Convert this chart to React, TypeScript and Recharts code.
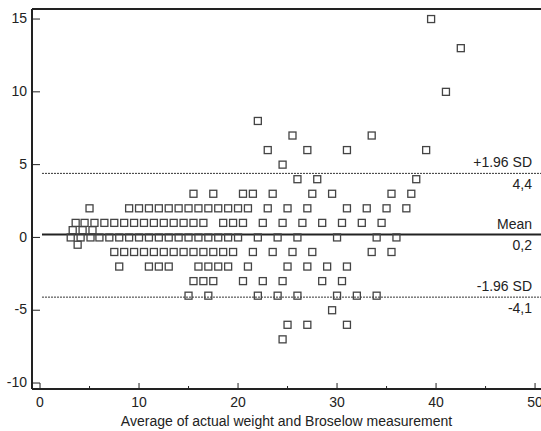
import React from 'react';
import { ScatterChart, Scatter, XAxis, YAxis, ReferenceLine } from 'recharts';

// difference levels (y) and the averages (x) plotted on each level
const diffLevels = [15, 13, 10, 8, 7, 6, 5, 4, 3, 2, 1, 0.5, 0, -0.5, -1, -2, -3, -4, -5, -6, -7];
const averagesByLevel: number[][] = [
  [39.5],
  [42.5],
  [41],
  [22],
  [25.5, 33.5],
  [23, 27, 31, 39],
  [24.5],
  [26, 28, 38],
  [15.5, 17.5, 20.5, 21.5, 23.5, 27.5, 29.5, 35.5, 37.5],
  [5, 9, 10, 11, 12, 13, 14, 15, 16, 17, 18, 19, 20, 21, 23, 25, 27, 31, 33, 35, 37],
  [3.6, 4.5, 5.5, 6.5, 7.5, 8.5, 9.5, 10.5, 11.5, 12.5, 13.5, 14.5, 15.5, 16.5, 18.5, 19.5, 20.5, 22.5, 24.5, 26.5, 28.5, 30.5, 32.5, 34.5],
  [3.3, 4.3, 5.3],
  [3.1, 4.1, 5.1, 6, 7, 8, 9, 10, 11, 12, 13, 14, 15, 16, 17, 18, 19, 20, 22, 24, 26, 30, 34, 36],
  [3.8],
  [7.5, 8.5, 9.5, 10.5, 11.5, 12.5, 13.5, 14.5, 15.5, 16.5, 17.5, 18.5, 19.5, 21.5, 23.5, 25.5, 27.5, 33.5, 35.5],
  [8, 11, 12, 13, 16, 17, 18, 19, 21, 25, 27, 29, 31],
  [15.5, 16.5, 17.5, 20.5, 22.5, 24.5, 28.5, 30.5],
  [15, 17, 22, 24, 26, 30, 32, 34],
  [29.5],
  [25, 27, 31],
  [24.5],
];

const meanDiff = 0.2;
const upperLimit = 4.4;
const lowerLimit = -4.1;

const xTicks = [0, 5, 10, 15, 20, 25, 30, 35, 40, 45, 50];
const yTicks = [-10, -5, 0, 5, 10, 15];

const xDomain = [-0.81, 50.6];
const yDomain = [-10.41, 15.69];

const points = diffLevels.flatMap((d, i) => averagesByLevel[i].map((x) => ({ x, y: d })));

const ink = '#222';
const fontFamily = '"Liberation Sans", Arial, sans-serif';

const Square = (props: any) => (
  <rect
    x={props.cx - 3.5}
    y={props.cy - 3.5}
    width={7}
    height={7}
    fill="none"
    stroke="#444"
    strokeWidth={1.3}
  />
);

const YTick = (props: any) => {
  const { x, y, payload } = props;
  return (
    <g>
      <text x={x} y={y} dy="0.3em" textAnchor="end" fontSize={14} fill={ink}>
        {payload.value}
      </text>
      <line x1={x + 5} x2={x + 13} y1={y} y2={y} stroke={ink} strokeWidth={1} />
    </g>
  );
};

const XTick = (props: any) => {
  const { x, y, payload } = props;
  const major = payload.value % 10 === 0;
  const axisY = y - 8;
  return (
    <g>
      <line x1={x} x2={x} y1={axisY} y2={axisY - (major ? 6 : 3)} stroke={ink} strokeWidth={1} />
      {major && (
        <text x={x} y={y} dy="0.71em" textAnchor="middle" fontSize={14} fill={ink}>
          {payload.value}
        </text>
      )}
    </g>
  );
};

const limitLabel = (above: string, below: string) => (props: any) => {
  const { viewBox } = props;
  const right = viewBox.x + viewBox.width - 9;
  return (
    <g>
      <text x={right} y={viewBox.y - 6} textAnchor="end" fontSize={14} fill={ink}>
        {above}
      </text>
      <text x={right} y={viewBox.y + 15.5} textAnchor="end" fontSize={14} fill={ink}>
        {below}
      </text>
    </g>
  );
};

export default function App() {
  return (
    <div style={{ position: 'absolute', left: 0, top: 0, width: 541, height: 431, background: '#fff', fontFamily }}>
      <ScatterChart width={541} height={431} margin={{ top: 9, right: 0, bottom: 0, left: 0 }}>
        <XAxis
          type="number"
          dataKey="x"
          domain={xDomain}
          allowDataOverflow
          ticks={xTicks}
          interval={0}
          tickSize={0}
          tickMargin={8}
          tick={<XTick />}
          height={42}
          axisLine={{ stroke: ink, strokeWidth: 2 }}
          label={{ value: 'Average of actual weight and Broselow measurement', position: 'insideBottom', offset: 5, fill: ink, fontSize: 14 }}
        />
        <YAxis
          type="number"
          dataKey="y"
          domain={yDomain}
          allowDataOverflow
          ticks={yTicks}
          interval={0}
          tickSize={0}
          tickMargin={5}
          tick={<YTick />}
          width={32}
          axisLine={{ stroke: ink, strokeWidth: 2 }}
        />
        <ReferenceLine y={yDomain[1]} stroke={ink} strokeWidth={2} />
        <ReferenceLine
          segment={[{ x: 0.2, y: upperLimit }, { x: xDomain[1], y: upperLimit }]}
          stroke="#333"
          strokeWidth={1}
          strokeDasharray="2 1"
          label={limitLabel('+1.96 SD', '4,4')}
        />
        <ReferenceLine
          segment={[{ x: 0.2, y: meanDiff }, { x: xDomain[1], y: meanDiff }]}
          stroke={ink}
          strokeWidth={2}
          label={limitLabel('Mean', '0,2')}
        />
        <ReferenceLine
          segment={[{ x: 0.2, y: lowerLimit }, { x: xDomain[1], y: lowerLimit }]}
          stroke="#333"
          strokeWidth={1}
          strokeDasharray="2 1"
          label={limitLabel('-1.96 SD', '-4,1')}
        />
        <Scatter data={points} shape={Square} isAnimationActive={false} />
      </ScatterChart>
    </div>
  );
}
